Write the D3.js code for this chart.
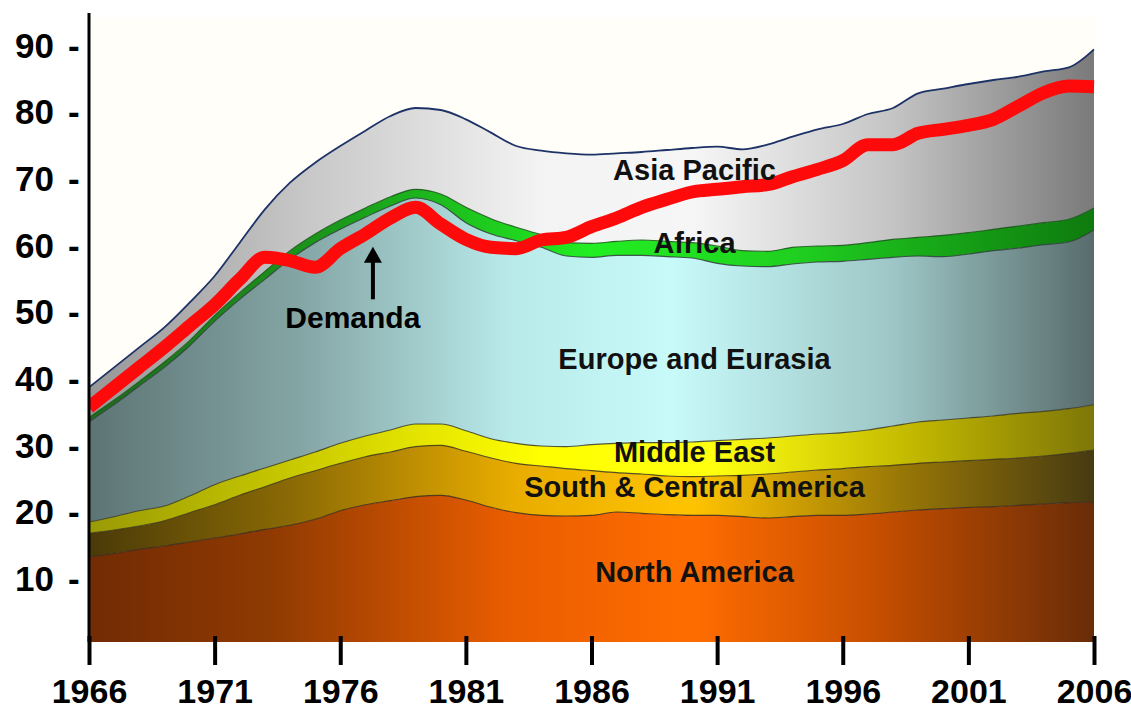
<!DOCTYPE html>
<html>
<head>
<meta charset="utf-8">
<script src="https://cdn.jsdelivr.net/npm/d3@7"></script>
<style>
  html, body { margin: 0; padding: 0; background: #ffffff; }
  svg { display: block; font-family: "Liberation Sans", Arial, sans-serif; }
</style>
</head>
<body>
<svg id="chart" width="1131" height="711"></svg>
<script>
// Oil consumption by region (stacked) and total demand, 1966-2006
const years = [1966,1967,1968,1969,1970,1971,1972,1973,1974,1975,
               1976,1977,1978,1979,1980,1981,1982,1983,1984,1985,
               1986,1987,1988,1989,1990,1991,1992,1993,1994,1995,
               1996,1997,1998,1999,2000,2001,2002,2003,2004,2005,2006];

const northAmerica = [13.4,13.9,14.5,15.0,15.6,16.2,16.8,17.5,18.1,19.0,
                      20.3,21.2,21.8,22.4,22.6,21.9,20.8,20.0,19.6,19.5,
                      19.6,20.1,19.9,19.7,19.6,19.6,19.4,19.2,19.4,19.6,
                      19.6,19.8,20.1,20.4,20.6,20.8,20.9,21.1,21.3,21.5,21.6];

const southCentralAmerica = [3.5,3.5,3.5,3.8,4.4,5.0,5.8,6.4,7.1,7.3,
                             7.1,7.2,7.3,7.5,7.5,7.3,7.4,7.4,7.4,7.1,
                             6.7,5.9,5.9,5.8,5.8,5.9,6.2,6.6,6.7,6.8,
                             7.0,7.1,7.0,7.0,7.0,7.0,7.1,7.1,7.2,7.4,7.8];

const middleEast = [1.7,2.0,2.3,2.2,2.5,3.0,2.9,2.8,2.7,2.8,
                    3.0,3.1,3.3,3.4,3.2,3.1,2.9,3.0,3.0,3.3,
                    3.9,4.4,4.7,5.0,5.2,5.3,5.4,5.4,5.4,5.4,
                    5.4,5.5,5.9,6.2,6.3,6.4,6.5,6.7,6.7,6.7,6.8];

const europeEurasia = [15.0,16.8,18.7,20.8,22.5,24.5,26.5,28.3,30.1,31.4,
                       32.1,32.8,33.6,33.9,32.9,31.2,30.7,30.4,29.8,28.6,
                       28.1,28.2,28.1,27.9,27.6,26.6,26.0,25.7,25.8,25.8,
                       25.7,25.6,25.3,24.9,24.5,24.6,24.8,24.8,25.0,25.0,26.2];

const africa = [0.7,0.7,0.7,0.8,0.8,0.9,1.0,1.2,1.3,1.3,
                1.4,1.4,1.4,1.3,1.6,2.3,2.3,2.0,1.9,2.0,
                2.1,2.1,2.3,2.3,2.3,2.6,2.3,2.3,2.5,2.4,
                2.4,2.5,2.7,2.8,3.2,3.2,3.2,3.3,3.3,3.4,3.3];

const asiaPacific = [4.5,4.9,5.1,5.2,5.7,5.9,7.5,9.3,10.2,10.7,
                     11.1,11.6,12.1,12.2,12.6,13.2,12.9,12.2,12.6,13.4,
                     13.3,13.2,13.2,13.7,14.2,14.9,15.2,16.0,16.6,17.5,
                     18.2,19.3,19.7,21.6,22.0,22.3,22.4,22.4,22.7,22.8,23.8];

const demand = [35.8,38.8,41.8,44.8,48.0,51.2,55.0,58.3,57.8,56.8,
                59.6,61.8,64.2,65.8,63.3,61.0,59.8,59.6,60.9,61.3,
                62.9,64.2,65.8,67.0,68.1,68.5,68.9,69.2,70.4,71.5,
                72.8,75.2,75.2,76.9,77.5,78.1,79.0,81.0,83.0,84.0,83.9];

const regionNames = ["North America", "South & Central America", "Middle East",
                     "Europe and Eurasia", "Africa", "Asia Pacific"];
const regionValues = [northAmerica, southCentralAmerica, middleEast,
                      europeEurasia, africa, asiaPacific];

const xTickYears = [1966, 1971, 1976, 1981, 1986, 1991, 1996, 2001, 2006];
const yTickValues = [10, 20, 30, 40, 50, 60, 70, 80, 90];

// Region label anchors (year, value) and the demand annotation
const regionLabels = [
  { text: "Asia Pacific",            year: 1990.1, value: 69.9 },
  { text: "Africa",                  year: 1990.1, value: 58.9 },
  { text: "Europe and Eurasia",      year: 1990.1, value: 41.5 },
  { text: "Middle East",             year: 1990.1, value: 27.6 },
  { text: "South & Central America", year: 1990.1, value: 22.35 },
  { text: "North America",           year: 1990.1, value: 9.6 }
];
const demandLabel = { text: "Demanda", year: 1976.5, value: 47.7 };
const demandArrow = { year: 1977.3, from: 52.0, to: 59.9 };

// ---- drawing ----
const svg = d3.select("#chart");
const x = d3.scaleLinear().domain([1966, 2006]).range([89, 1094]);
const y = d3.scaleLinear().domain([0, 90]).range([646, 46]);

const plotLeft = 89, plotRight = 1095, plotTop = 17, plotBottom = 642;

const rows = years.map((yr, i) => {
  const r = { year: yr };
  regionNames.forEach((k, j) => { r[k] = regionValues[j][i]; });
  return r;
});
const series = d3.stack().keys(regionNames)(rows);

// Horizontal shading of each band
const bandStyle = {
  "North America": { stops: [[0,"#722b04"],[0.18,"#8f3a02"],[0.42,"#ea5d00"],[0.6,"#ff6d00"],[0.78,"#c84f00"],[1,"#692c08"]], line: "#3a2a1a" },
  "South & Central America": { stops: [[0,"#4a3a08"],[0.2,"#8a6a05"],[0.42,"#e8ac00"],[0.6,"#ffc400"],[0.8,"#9c7a06"],[1,"#463a12"]], line: "#3a3318" },
  "Middle East": { stops: [[0,"#9a9a05"],[0.2,"#c8c800"],[0.45,"#ffff00"],[0.62,"#ffff10"],[0.82,"#c2b800"],[1,"#7e7608"]], line: "#3a3a20" },
  "Europe and Eurasia": { stops: [[0,"#5d7474"],[0.22,"#87a8a8"],[0.42,"#b9eaea"],[0.58,"#c8fafa"],[0.8,"#9ec6c6"],[1,"#586c6c"]], line: "#2e3c3c" },
  "Africa": { stops: [[0,"#1e6a1e"],[0.25,"#1a9a1a"],[0.5,"#22ee22"],[0.7,"#20d020"],[1,"#0e7a0e"]], line: "#155015" },
  "Asia Pacific": { stops: [[0,"#979797"],[0.22,"#c8c8c8"],[0.45,"#f3f3f3"],[0.6,"#f6f6f6"],[0.8,"#c4c4c4"],[1,"#7a7a7a"]], line: "#1d3266" }
};

const defs = svg.append("defs");
regionNames.forEach((name, i) => {
  const g = defs.append("linearGradient")
    .attr("id", "band" + i)
    .attr("x1", 0).attr("x2", 1).attr("y1", 0).attr("y2", 0);
  bandStyle[name].stops.forEach(s => {
    g.append("stop").attr("offset", s[0]).attr("stop-color", s[1]);
  });
});
defs.append("clipPath").attr("id", "plotClip")
  .append("rect")
  .attr("x", plotLeft).attr("y", 0)
  .attr("width", plotRight - plotLeft).attr("height", plotBottom);

// faint plot background
svg.append("rect")
  .attr("x", plotLeft + 2).attr("y", plotTop)
  .attr("width", plotRight - plotLeft - 2).attr("height", plotBottom - plotTop)
  .attr("fill", "#fffef9");

const plot = svg.append("g").attr("clip-path", "url(#plotClip)");

const area = d3.area()
  .x(d => x(d.data.year))
  .y0(d => y(d[0]))
  .y1(d => y(d[1]))
  .curve(d3.curveMonotoneX);

plot.selectAll("path.band")
  .data(series)
  .join("path")
  .attr("class", "band")
  .attr("d", area)
  .attr("fill", (d, i) => `url(#band${i})`);

// band edges
const edge = d3.line()
  .x(d => x(d.data.year))
  .y(d => y(d[1]))
  .curve(d3.curveMonotoneX);

plot.selectAll("path.edge")
  .data(series)
  .join("path")
  .attr("class", "edge")
  .attr("d", edge)
  .attr("fill", "none")
  .attr("stroke", d => bandStyle[d.key].line)
  .attr("stroke-width", d => d.key === "Asia Pacific" ? 1.8 : 1.1)
  .attr("stroke-opacity", d => d.key === "Asia Pacific" ? 1 : 0.85);

// total demand line
const demandLine = d3.line()
  .x((d, i) => x(years[i]))
  .y(d => y(d))
  .curve(d3.curveMonotoneX);

plot.append("path")
  .datum(demand)
  .attr("d", demandLine)
  .attr("fill", "none")
  .attr("stroke", "#ff0a0a")
  .attr("stroke-width", 13)
  .attr("stroke-linejoin", "round");

// region labels
svg.append("g")
  .selectAll("text")
  .data(regionLabels)
  .join("text")
  .attr("x", d => x(d.year))
  .attr("y", d => y(d.value))
  .attr("text-anchor", "middle")
  .attr("font-size", 29)
  .attr("font-weight", "bold")
  .attr("fill", "#111")
  .text(d => d.text);

// demand annotation
svg.append("text")
  .attr("x", x(demandLabel.year))
  .attr("y", y(demandLabel.value))
  .attr("text-anchor", "middle")
  .attr("font-size", 30)
  .attr("font-weight", "bold")
  .attr("fill", "#000")
  .text(demandLabel.text);

const ax = x(demandArrow.year);
const tipY = y(demandArrow.to);
svg.append("line")
  .attr("x1", ax).attr("x2", ax)
  .attr("y1", y(demandArrow.from)).attr("y2", tipY + 14)
  .attr("stroke", "#000").attr("stroke-width", 4);
svg.append("path")
  .attr("d", `M${ax},${tipY} L${ax - 9},${tipY + 16} L${ax + 9},${tipY + 16} Z`)
  .attr("fill", "#000");

// y axis
svg.append("line")
  .attr("x1", plotLeft).attr("x2", plotLeft)
  .attr("y1", 13).attr("y2", plotBottom)
  .attr("stroke", "#000").attr("stroke-width", 3);

const gy = svg.append("g")
  .attr("transform", "translate(54,0)")
  .call(d3.axisLeft(y).tickValues(yTickValues).tickSize(0).tickPadding(0).tickFormat(d3.format("d")));
gy.select(".domain").remove();
gy.selectAll(".tick text")
  .attr("font-size", 35).attr("font-weight", "bold").attr("fill", "#000")
  .attr("font-family", "'Liberation Sans', Arial, sans-serif");
gy.selectAll(".tick").append("text")
  .attr("x", 14).attr("dy", "0.32em")
  .attr("text-anchor", "start")
  .attr("font-size", 35).attr("font-weight", "bold").attr("fill", "#000")
  .attr("font-family", "'Liberation Sans', Arial, sans-serif")
  .text("-");

// x axis
const gx = svg.append("g")
  .attr("transform", "translate(0,636)")
  .call(d3.axisBottom(x).tickValues(xTickYears).tickSize(29).tickPadding(19).tickFormat(d3.format("d")));
gx.select(".domain").remove();
gx.selectAll(".tick line").attr("stroke", "#000").attr("stroke-width", 4);
gx.selectAll(".tick text")
  .attr("dy", null)
  .attr("dominant-baseline", "auto")
  .attr("y", 67)
  .attr("font-size", 34).attr("font-weight", "bold").attr("fill", "#000")
  .attr("font-family", "'Liberation Sans', Arial, sans-serif");
</script>
</body>
</html>
